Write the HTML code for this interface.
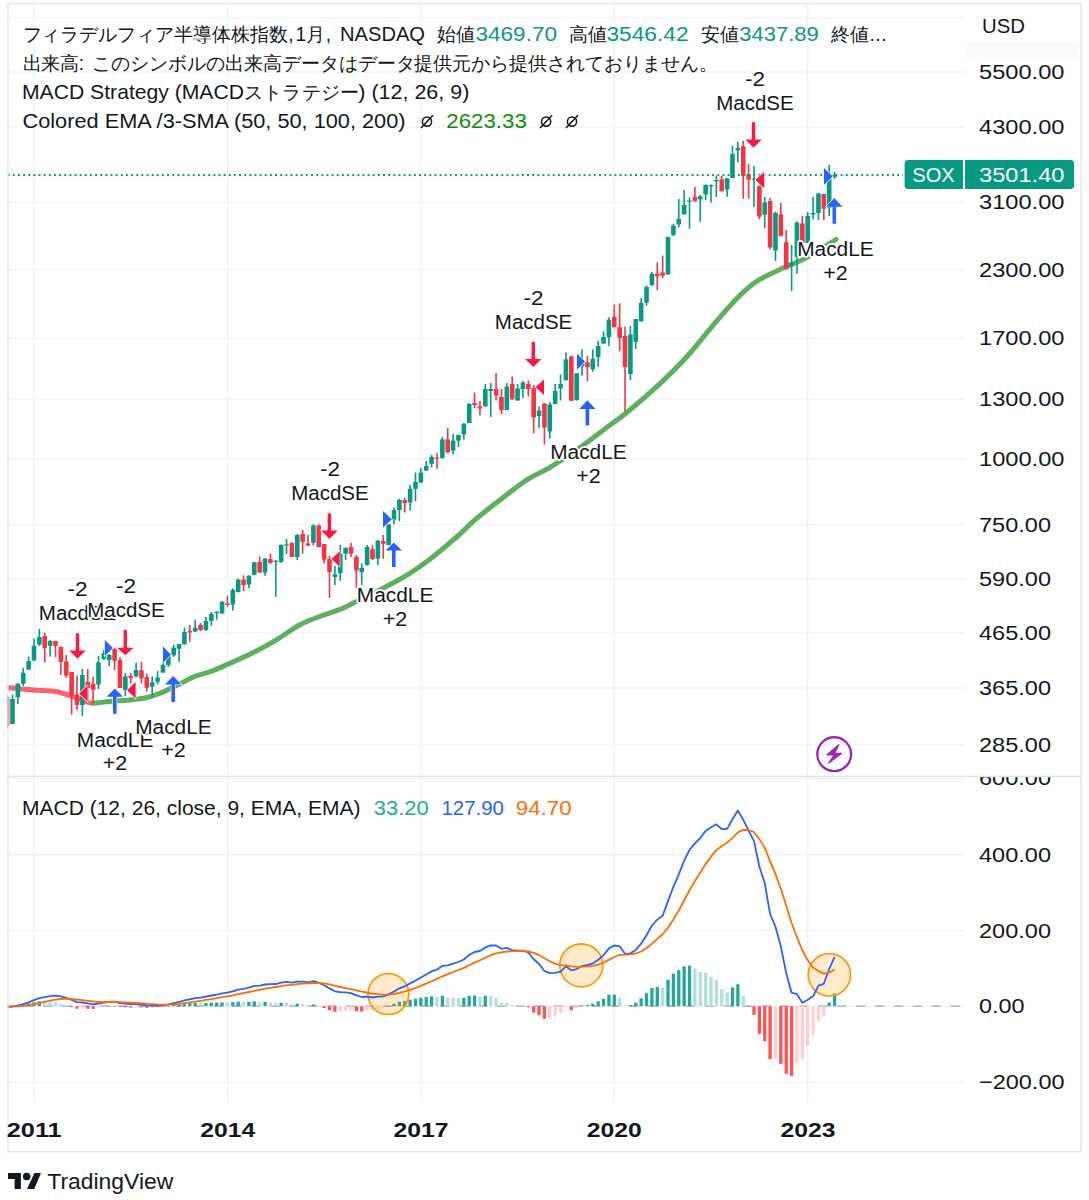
<!DOCTYPE html>
<html><head><meta charset="utf-8"><style>
html,body{margin:0;padding:0;background:#fff;}
body{width:1089px;height:1200px;position:relative;overflow:hidden;}
</style></head><body>
<svg width="1089" height="1200" viewBox="0 0 1089 1200" style="position:absolute;left:0;top:0">
<defs><clipPath id="cm"><rect x="7.5" y="3.5" width="957" height="773"/></clipPath><clipPath id="cd"><rect x="7.5" y="777" width="957" height="326"/></clipPath></defs>
<rect x="0" y="0" width="1089" height="1200" fill="#ffffff"/>
<line x1="7.5" y1="17.5" x2="964.5" y2="17.5" stroke="#eff0f1" stroke-width="1.2"/>
<line x1="7.5" y1="72" x2="964.5" y2="72" stroke="#eff0f1" stroke-width="1.2"/>
<line x1="7.5" y1="127" x2="964.5" y2="127" stroke="#eff0f1" stroke-width="1.2"/>
<line x1="7.5" y1="202" x2="964.5" y2="202" stroke="#eff0f1" stroke-width="1.2"/>
<line x1="7.5" y1="270" x2="964.5" y2="270" stroke="#eff0f1" stroke-width="1.2"/>
<line x1="7.5" y1="338" x2="964.5" y2="338" stroke="#eff0f1" stroke-width="1.2"/>
<line x1="7.5" y1="399" x2="964.5" y2="399" stroke="#eff0f1" stroke-width="1.2"/>
<line x1="7.5" y1="459" x2="964.5" y2="459" stroke="#eff0f1" stroke-width="1.2"/>
<line x1="7.5" y1="524.5" x2="964.5" y2="524.5" stroke="#eff0f1" stroke-width="1.2"/>
<line x1="7.5" y1="579" x2="964.5" y2="579" stroke="#eff0f1" stroke-width="1.2"/>
<line x1="7.5" y1="633" x2="964.5" y2="633" stroke="#eff0f1" stroke-width="1.2"/>
<line x1="7.5" y1="688" x2="964.5" y2="688" stroke="#eff0f1" stroke-width="1.2"/>
<line x1="7.5" y1="745" x2="964.5" y2="745" stroke="#eff0f1" stroke-width="1.2"/>
<line x1="7.5" y1="778.5" x2="964.5" y2="778.5" stroke="#eff0f1" stroke-width="1.2"/>
<line x1="7.5" y1="854.6" x2="964.5" y2="854.6" stroke="#eff0f1" stroke-width="1.2"/>
<line x1="7.5" y1="930.5" x2="964.5" y2="930.5" stroke="#eff0f1" stroke-width="1.2"/>
<line x1="7.5" y1="1082" x2="964.5" y2="1082" stroke="#eff0f1" stroke-width="1.2"/>
<line x1="34" y1="3.5" x2="34" y2="1103" stroke="#eff0f1" stroke-width="1.2"/>
<line x1="227.5" y1="3.5" x2="227.5" y2="1103" stroke="#eff0f1" stroke-width="1.2"/>
<line x1="420.8" y1="3.5" x2="420.8" y2="1103" stroke="#eff0f1" stroke-width="1.2"/>
<line x1="614" y1="3.5" x2="614" y2="1103" stroke="#eff0f1" stroke-width="1.2"/>
<line x1="807.7" y1="3.5" x2="807.7" y2="1103" stroke="#eff0f1" stroke-width="1.2"/>
<g clip-path="url(#cm)">
<path fill="none" stroke="#f7525f" stroke-opacity="0.9" stroke-width="5" stroke-linejoin="round" d="M7.0,687.5 C11.2,687.9 24.7,689.4 32.5,690.0 C40.3,690.6 48.6,690.6 54.0,691.3 C59.4,692.0 61.4,692.9 65.0,694.0 C68.6,695.1 71.6,696.3 75.8,697.8 C80.0,699.3 87.0,701.9 90.0,702.8 C93.0,703.6 93.3,702.9 94.0,702.9"/>
<path fill="none" stroke="#4ca64c" stroke-opacity="0.9" stroke-width="5" stroke-linecap="round" stroke-linejoin="round" d="M94.0,702.9 C94.8,702.9 96.8,703.0 98.8,702.8 C100.8,702.6 102.8,702.1 105.8,701.8 C108.8,701.5 113.1,701.1 116.7,700.8 C120.3,700.5 123.9,700.5 127.5,700.2 C131.1,699.9 134.7,699.6 138.3,699.1 C141.9,698.6 146.3,697.7 149.2,697.0 C152.1,696.3 153.2,695.7 155.7,694.8 C158.2,693.9 161.8,692.6 164.3,691.5 C166.8,690.4 167.9,689.7 170.8,688.3 C173.7,686.9 177.7,684.9 181.7,682.9 C185.7,680.9 190.1,678.2 195.0,676.3 C199.9,674.4 204.8,673.7 211.2,671.3 C217.6,668.9 226.0,665.1 233.3,661.8 C240.7,658.5 248.0,655.2 255.3,651.5 C262.6,647.8 270.0,643.7 277.3,639.3 C284.6,634.9 292.3,628.8 299.4,625.0 C306.5,621.2 312.9,619.0 320.0,616.3 C327.1,613.6 336.1,611.0 342.0,608.6 C347.9,606.2 347.9,605.7 355.3,602.0 C362.7,598.3 377.3,591.2 386.1,586.6 C394.9,582.0 400.9,579.0 408.2,574.4 C415.5,569.8 422.1,565.2 430.2,559.0 C438.3,552.8 449.2,543.4 456.6,537.0 C464.0,530.6 467.7,526.1 474.3,520.4 C480.9,514.7 487.5,509.6 496.3,502.8 C505.1,496.0 518.2,485.6 527.2,479.7 C536.2,473.8 541.6,472.4 550.0,467.3 C558.4,462.2 568.3,455.8 577.5,449.4 C586.7,443.0 596.8,434.9 605.1,428.7 C613.4,422.5 617.9,419.8 627.1,412.2 C636.3,404.6 650.1,392.7 660.2,383.3 C670.3,373.9 678.5,365.8 687.7,355.7 C696.9,345.6 707.0,332.2 715.3,322.6 C723.6,313.0 730.4,304.8 737.3,297.9 C744.2,291.0 748.8,286.4 756.6,281.3 C764.4,276.2 775.9,271.4 784.2,267.5 C792.5,263.6 797.6,262.6 806.2,257.9 C814.8,253.2 831.0,242.6 836.0,239.5"/>
<rect x="6.33" y="694.0" width="1.6" height="34.0" fill="#f23645"/>
<rect x="4.83" y="697.0" width="4.6" height="29.0" fill="#f23645"/>
<rect x="11.71" y="694.5" width="1.6" height="29.5" fill="#089981"/>
<rect x="10.21" y="699.0" width="4.6" height="25.0" fill="#089981"/>
<rect x="17.08" y="683.0" width="1.6" height="21.0" fill="#089981"/>
<rect x="15.58" y="683.7" width="4.6" height="13.5" fill="#089981"/>
<rect x="22.45" y="668.0" width="1.6" height="18.0" fill="#089981"/>
<rect x="20.95" y="672.8" width="4.6" height="10.9" fill="#089981"/>
<rect x="27.83" y="656.6" width="1.6" height="13.0" fill="#089981"/>
<rect x="26.33" y="661.0" width="4.6" height="8.6" fill="#089981"/>
<rect x="33.20" y="639.0" width="1.6" height="22.0" fill="#089981"/>
<rect x="31.70" y="645.8" width="4.6" height="14.6" fill="#089981"/>
<rect x="38.57" y="629.0" width="1.6" height="16.8" fill="#089981"/>
<rect x="37.07" y="637.0" width="4.6" height="7.7" fill="#089981"/>
<rect x="43.95" y="632.7" width="1.6" height="29.8" fill="#f23645"/>
<rect x="42.45" y="636.0" width="4.6" height="12.0" fill="#f23645"/>
<rect x="49.32" y="640.0" width="1.6" height="16.6" fill="#089981"/>
<rect x="47.82" y="640.9" width="4.6" height="4.9" fill="#089981"/>
<rect x="54.69" y="641.0" width="1.6" height="16.0" fill="#f23645"/>
<rect x="53.19" y="641.0" width="4.6" height="5.0" fill="#f23645"/>
<rect x="60.07" y="647.0" width="1.6" height="28.0" fill="#f23645"/>
<rect x="58.57" y="646.8" width="4.6" height="15.2" fill="#f23645"/>
<rect x="65.44" y="655.0" width="1.6" height="22.7" fill="#f23645"/>
<rect x="63.94" y="661.5" width="4.6" height="14.0" fill="#f23645"/>
<rect x="70.81" y="672.0" width="1.6" height="42.5" fill="#f23645"/>
<rect x="69.31" y="671.8" width="4.6" height="23.8" fill="#f23645"/>
<rect x="76.18" y="675.5" width="1.6" height="34.5" fill="#f23645"/>
<rect x="74.68" y="694.5" width="4.6" height="10.5" fill="#f23645"/>
<rect x="81.56" y="669.0" width="1.6" height="47.0" fill="#089981"/>
<rect x="80.06" y="675.0" width="4.6" height="30.0" fill="#089981"/>
<rect x="86.93" y="669.0" width="1.6" height="30.6" fill="#f23645"/>
<rect x="85.43" y="682.0" width="4.6" height="6.0" fill="#f23645"/>
<rect x="92.30" y="677.0" width="1.6" height="25.6" fill="#f23645"/>
<rect x="90.80" y="683.7" width="4.6" height="5.9" fill="#f23645"/>
<rect x="97.68" y="656.0" width="1.6" height="33.0" fill="#089981"/>
<rect x="96.18" y="662.3" width="4.6" height="22.2" fill="#089981"/>
<rect x="103.05" y="650.0" width="1.6" height="10.0" fill="#089981"/>
<rect x="101.55" y="653.0" width="4.6" height="6.0" fill="#089981"/>
<rect x="108.42" y="654.0" width="1.6" height="12.0" fill="#089981"/>
<rect x="106.92" y="655.0" width="4.6" height="5.0" fill="#089981"/>
<rect x="113.80" y="648.0" width="1.6" height="22.0" fill="#f23645"/>
<rect x="112.30" y="649.0" width="4.6" height="11.7" fill="#f23645"/>
<rect x="119.17" y="657.4" width="1.6" height="30.6" fill="#f23645"/>
<rect x="117.67" y="660.0" width="4.6" height="28.0" fill="#f23645"/>
<rect x="124.54" y="673.0" width="1.6" height="23.0" fill="#089981"/>
<rect x="123.04" y="676.4" width="4.6" height="13.6" fill="#089981"/>
<rect x="129.91" y="673.0" width="1.6" height="10.4" fill="#f23645"/>
<rect x="128.41" y="675.8" width="4.6" height="2.2" fill="#f23645"/>
<rect x="135.29" y="662.8" width="1.6" height="14.7" fill="#089981"/>
<rect x="133.79" y="670.0" width="4.6" height="6.4" fill="#089981"/>
<rect x="140.66" y="661.8" width="1.6" height="21.6" fill="#f23645"/>
<rect x="139.16" y="670.4" width="4.6" height="8.1" fill="#f23645"/>
<rect x="146.03" y="673.7" width="1.6" height="17.8" fill="#f23645"/>
<rect x="144.53" y="677.0" width="4.6" height="10.8" fill="#f23645"/>
<rect x="151.41" y="676.4" width="1.6" height="20.6" fill="#089981"/>
<rect x="149.91" y="682.3" width="4.6" height="4.4" fill="#089981"/>
<rect x="156.78" y="671.0" width="1.6" height="13.5" fill="#089981"/>
<rect x="155.28" y="677.5" width="4.6" height="4.3" fill="#089981"/>
<rect x="162.15" y="661.0" width="1.6" height="11.6" fill="#089981"/>
<rect x="160.65" y="665.0" width="4.6" height="7.6" fill="#089981"/>
<rect x="167.53" y="653.0" width="1.6" height="14.0" fill="#089981"/>
<rect x="166.03" y="655.0" width="4.6" height="10.0" fill="#089981"/>
<rect x="172.90" y="645.0" width="1.6" height="12.0" fill="#089981"/>
<rect x="171.40" y="647.7" width="4.6" height="7.6" fill="#089981"/>
<rect x="178.27" y="644.0" width="1.6" height="17.8" fill="#089981"/>
<rect x="176.77" y="644.0" width="4.6" height="4.8" fill="#089981"/>
<rect x="183.64" y="627.6" width="1.6" height="16.8" fill="#089981"/>
<rect x="182.14" y="632.0" width="4.6" height="12.4" fill="#089981"/>
<rect x="189.02" y="625.0" width="1.6" height="16.7" fill="#f23645"/>
<rect x="187.52" y="630.9" width="4.6" height="1.6" fill="#f23645"/>
<rect x="194.39" y="619.7" width="1.6" height="12.3" fill="#089981"/>
<rect x="192.89" y="627.8" width="4.6" height="3.7" fill="#089981"/>
<rect x="199.76" y="623.0" width="1.6" height="8.0" fill="#f23645"/>
<rect x="198.26" y="625.0" width="4.6" height="5.0" fill="#f23645"/>
<rect x="205.14" y="617.0" width="1.6" height="14.0" fill="#089981"/>
<rect x="203.64" y="621.0" width="4.6" height="9.0" fill="#089981"/>
<rect x="210.51" y="612.0" width="1.6" height="13.7" fill="#089981"/>
<rect x="209.01" y="613.8" width="4.6" height="7.0" fill="#089981"/>
<rect x="215.88" y="611.6" width="1.6" height="8.1" fill="#089981"/>
<rect x="214.38" y="611.6" width="4.6" height="1.6" fill="#089981"/>
<rect x="221.25" y="601.0" width="1.6" height="13.0" fill="#089981"/>
<rect x="219.75" y="601.8" width="4.6" height="11.4" fill="#089981"/>
<rect x="226.63" y="595.9" width="1.6" height="10.8" fill="#f23645"/>
<rect x="225.13" y="603.5" width="4.6" height="1.5" fill="#f23645"/>
<rect x="232.00" y="588.3" width="1.6" height="22.2" fill="#089981"/>
<rect x="230.50" y="590.0" width="4.6" height="14.5" fill="#089981"/>
<rect x="237.37" y="578.5" width="1.6" height="14.0" fill="#089981"/>
<rect x="235.87" y="579.6" width="4.6" height="12.4" fill="#089981"/>
<rect x="242.75" y="575.3" width="1.6" height="15.7" fill="#f23645"/>
<rect x="241.25" y="579.6" width="4.6" height="5.4" fill="#f23645"/>
<rect x="248.12" y="575.3" width="1.6" height="13.0" fill="#089981"/>
<rect x="246.62" y="575.8" width="4.6" height="8.7" fill="#089981"/>
<rect x="253.49" y="561.8" width="1.6" height="13.5" fill="#089981"/>
<rect x="251.99" y="562.3" width="4.6" height="12.5" fill="#089981"/>
<rect x="258.87" y="556.3" width="1.6" height="16.3" fill="#f23645"/>
<rect x="257.37" y="561.8" width="4.6" height="10.8" fill="#f23645"/>
<rect x="264.24" y="558.0" width="1.6" height="17.8" fill="#089981"/>
<rect x="262.74" y="558.5" width="4.6" height="14.1" fill="#089981"/>
<rect x="269.61" y="553.6" width="1.6" height="10.4" fill="#f23645"/>
<rect x="268.11" y="559.0" width="4.6" height="3.8" fill="#f23645"/>
<rect x="274.98" y="560.0" width="1.6" height="37.0" fill="#089981"/>
<rect x="273.48" y="560.7" width="4.6" height="1.2" fill="#089981"/>
<rect x="280.36" y="544.4" width="1.6" height="18.4" fill="#089981"/>
<rect x="278.86" y="545.0" width="4.6" height="16.8" fill="#089981"/>
<rect x="285.73" y="539.0" width="1.6" height="15.0" fill="#089981"/>
<rect x="284.23" y="544.4" width="4.6" height="1.2" fill="#089981"/>
<rect x="291.10" y="542.8" width="1.6" height="14.2" fill="#f23645"/>
<rect x="289.60" y="542.8" width="4.6" height="14.2" fill="#f23645"/>
<rect x="296.48" y="534.0" width="1.6" height="26.0" fill="#089981"/>
<rect x="294.98" y="535.0" width="4.6" height="22.0" fill="#089981"/>
<rect x="301.85" y="529.8" width="1.6" height="23.9" fill="#f23645"/>
<rect x="300.35" y="534.0" width="4.6" height="7.8" fill="#f23645"/>
<rect x="307.22" y="535.0" width="1.6" height="11.0" fill="#f23645"/>
<rect x="305.72" y="543.4" width="4.6" height="2.1" fill="#f23645"/>
<rect x="312.60" y="524.4" width="1.6" height="21.1" fill="#089981"/>
<rect x="311.10" y="525.5" width="4.6" height="17.3" fill="#089981"/>
<rect x="317.97" y="524.4" width="1.6" height="22.6" fill="#f23645"/>
<rect x="316.47" y="525.5" width="4.6" height="21.5" fill="#f23645"/>
<rect x="323.34" y="544.0" width="1.6" height="19.4" fill="#f23645"/>
<rect x="321.84" y="544.0" width="4.6" height="15.6" fill="#f23645"/>
<rect x="328.71" y="555.8" width="1.6" height="42.2" fill="#f23645"/>
<rect x="327.21" y="559.0" width="4.6" height="13.0" fill="#f23645"/>
<rect x="334.09" y="566.0" width="1.6" height="19.0" fill="#089981"/>
<rect x="332.59" y="574.3" width="4.6" height="2.7" fill="#089981"/>
<rect x="339.46" y="545.0" width="1.6" height="35.8" fill="#089981"/>
<rect x="337.96" y="553.7" width="4.6" height="19.6" fill="#089981"/>
<rect x="344.83" y="547.7" width="1.6" height="12.3" fill="#089981"/>
<rect x="343.33" y="547.7" width="4.6" height="6.0" fill="#089981"/>
<rect x="350.21" y="542.8" width="1.6" height="14.2" fill="#f23645"/>
<rect x="348.71" y="547.0" width="4.6" height="6.7" fill="#f23645"/>
<rect x="355.58" y="554.8" width="1.6" height="33.5" fill="#f23645"/>
<rect x="354.08" y="557.0" width="4.6" height="13.5" fill="#f23645"/>
<rect x="360.95" y="563.4" width="1.6" height="21.6" fill="#089981"/>
<rect x="359.45" y="567.8" width="4.6" height="4.2" fill="#089981"/>
<rect x="366.33" y="545.0" width="1.6" height="20.6" fill="#089981"/>
<rect x="364.83" y="547.0" width="4.6" height="18.0" fill="#089981"/>
<rect x="371.70" y="545.0" width="1.6" height="15.0" fill="#f23645"/>
<rect x="370.20" y="549.3" width="4.6" height="9.7" fill="#f23645"/>
<rect x="377.07" y="540.0" width="1.6" height="25.0" fill="#089981"/>
<rect x="375.57" y="540.7" width="4.6" height="17.8" fill="#089981"/>
<rect x="382.44" y="535.0" width="1.6" height="23.8" fill="#f23645"/>
<rect x="380.94" y="541.0" width="4.6" height="2.8" fill="#f23645"/>
<rect x="387.82" y="524.4" width="1.6" height="21.1" fill="#089981"/>
<rect x="386.32" y="524.4" width="4.6" height="20.6" fill="#089981"/>
<rect x="393.19" y="507.5" width="1.6" height="16.9" fill="#089981"/>
<rect x="391.69" y="510.0" width="4.6" height="9.4" fill="#089981"/>
<rect x="398.56" y="498.8" width="1.6" height="22.2" fill="#089981"/>
<rect x="397.06" y="500.0" width="4.6" height="10.0" fill="#089981"/>
<rect x="403.94" y="498.0" width="1.6" height="14.5" fill="#f23645"/>
<rect x="402.44" y="500.0" width="4.6" height="3.0" fill="#f23645"/>
<rect x="409.31" y="485.0" width="1.6" height="25.6" fill="#089981"/>
<rect x="407.81" y="488.8" width="4.6" height="13.7" fill="#089981"/>
<rect x="414.68" y="472.5" width="1.6" height="28.8" fill="#089981"/>
<rect x="413.18" y="481.9" width="4.6" height="6.9" fill="#089981"/>
<rect x="420.06" y="468.0" width="1.6" height="15.0" fill="#089981"/>
<rect x="418.56" y="472.5" width="4.6" height="10.0" fill="#089981"/>
<rect x="425.43" y="461.0" width="1.6" height="10.0" fill="#089981"/>
<rect x="423.93" y="466.0" width="4.6" height="4.6" fill="#089981"/>
<rect x="430.80" y="455.0" width="1.6" height="12.5" fill="#089981"/>
<rect x="429.30" y="456.9" width="4.6" height="6.9" fill="#089981"/>
<rect x="436.18" y="453.0" width="1.6" height="15.8" fill="#f23645"/>
<rect x="434.68" y="457.5" width="4.6" height="1.2" fill="#f23645"/>
<rect x="441.55" y="436.9" width="1.6" height="21.9" fill="#089981"/>
<rect x="440.05" y="439.4" width="4.6" height="18.6" fill="#089981"/>
<rect x="446.92" y="428.0" width="1.6" height="25.0" fill="#f23645"/>
<rect x="445.42" y="439.4" width="4.6" height="13.1" fill="#f23645"/>
<rect x="452.29" y="433.8" width="1.6" height="20.6" fill="#089981"/>
<rect x="450.79" y="440.6" width="4.6" height="10.0" fill="#089981"/>
<rect x="457.67" y="434.4" width="1.6" height="12.5" fill="#089981"/>
<rect x="456.17" y="435.0" width="4.6" height="5.6" fill="#089981"/>
<rect x="463.04" y="423.0" width="1.6" height="16.4" fill="#089981"/>
<rect x="461.54" y="423.8" width="4.6" height="10.6" fill="#089981"/>
<rect x="468.41" y="403.0" width="1.6" height="20.0" fill="#089981"/>
<rect x="466.91" y="404.0" width="4.6" height="19.0" fill="#089981"/>
<rect x="473.79" y="392.5" width="1.6" height="15.5" fill="#f23645"/>
<rect x="472.29" y="403.0" width="4.6" height="2.0" fill="#f23645"/>
<rect x="479.16" y="401.0" width="1.6" height="14.5" fill="#f23645"/>
<rect x="477.66" y="406.5" width="4.6" height="2.0" fill="#f23645"/>
<rect x="484.53" y="384.0" width="1.6" height="22.5" fill="#089981"/>
<rect x="483.03" y="389.0" width="4.6" height="17.5" fill="#089981"/>
<rect x="489.91" y="383.0" width="1.6" height="34.0" fill="#089981"/>
<rect x="488.41" y="389.0" width="4.6" height="2.0" fill="#089981"/>
<rect x="495.28" y="373.0" width="1.6" height="27.5" fill="#f23645"/>
<rect x="493.78" y="389.0" width="4.6" height="6.5" fill="#f23645"/>
<rect x="500.65" y="389.0" width="1.6" height="25.0" fill="#f23645"/>
<rect x="499.15" y="397.0" width="4.6" height="13.0" fill="#f23645"/>
<rect x="506.02" y="383.0" width="1.6" height="27.0" fill="#089981"/>
<rect x="504.52" y="386.5" width="4.6" height="23.5" fill="#089981"/>
<rect x="511.40" y="376.5" width="1.6" height="23.5" fill="#f23645"/>
<rect x="509.90" y="384.0" width="4.6" height="15.0" fill="#f23645"/>
<rect x="516.77" y="384.0" width="1.6" height="16.5" fill="#089981"/>
<rect x="515.27" y="388.5" width="4.6" height="12.0" fill="#089981"/>
<rect x="522.14" y="381.0" width="1.6" height="17.0" fill="#089981"/>
<rect x="520.64" y="382.5" width="4.6" height="6.5" fill="#089981"/>
<rect x="527.52" y="380.5" width="1.6" height="16.0" fill="#f23645"/>
<rect x="526.02" y="384.0" width="4.6" height="5.0" fill="#f23645"/>
<rect x="532.89" y="385.0" width="1.6" height="48.5" fill="#f23645"/>
<rect x="531.39" y="388.0" width="4.6" height="29.5" fill="#f23645"/>
<rect x="538.26" y="406.5" width="1.6" height="21.5" fill="#089981"/>
<rect x="536.76" y="410.5" width="4.6" height="5.5" fill="#089981"/>
<rect x="543.63" y="403.0" width="1.6" height="41.5" fill="#f23645"/>
<rect x="542.13" y="403.5" width="4.6" height="24.0" fill="#f23645"/>
<rect x="549.01" y="402.0" width="1.6" height="36.5" fill="#089981"/>
<rect x="547.51" y="404.5" width="4.6" height="27.0" fill="#089981"/>
<rect x="554.38" y="384.0" width="1.6" height="20.0" fill="#089981"/>
<rect x="552.88" y="391.0" width="4.6" height="13.0" fill="#089981"/>
<rect x="559.75" y="374.5" width="1.6" height="26.0" fill="#089981"/>
<rect x="558.25" y="384.0" width="4.6" height="4.5" fill="#089981"/>
<rect x="565.13" y="352.3" width="1.6" height="28.0" fill="#089981"/>
<rect x="563.63" y="359.3" width="4.6" height="21.0" fill="#089981"/>
<rect x="570.50" y="356.0" width="1.6" height="45.0" fill="#f23645"/>
<rect x="569.00" y="356.4" width="4.6" height="44.4" fill="#f23645"/>
<rect x="575.87" y="373.0" width="1.6" height="27.5" fill="#089981"/>
<rect x="574.37" y="373.3" width="4.6" height="26.9" fill="#089981"/>
<rect x="581.25" y="349.4" width="1.6" height="26.3" fill="#089981"/>
<rect x="579.75" y="361.7" width="4.6" height="4.6" fill="#089981"/>
<rect x="586.62" y="355.8" width="1.6" height="25.7" fill="#f23645"/>
<rect x="585.12" y="362.3" width="4.6" height="4.7" fill="#f23645"/>
<rect x="591.99" y="349.4" width="1.6" height="22.2" fill="#089981"/>
<rect x="590.49" y="358.8" width="4.6" height="10.5" fill="#089981"/>
<rect x="597.37" y="340.7" width="1.6" height="26.3" fill="#089981"/>
<rect x="595.87" y="346.0" width="4.6" height="11.0" fill="#089981"/>
<rect x="602.74" y="331.3" width="1.6" height="12.3" fill="#089981"/>
<rect x="601.24" y="337.0" width="4.6" height="6.6" fill="#089981"/>
<rect x="608.11" y="317.3" width="1.6" height="28.7" fill="#089981"/>
<rect x="606.61" y="319.7" width="4.6" height="17.3" fill="#089981"/>
<rect x="613.48" y="304.5" width="1.6" height="22.8" fill="#f23645"/>
<rect x="611.98" y="316.8" width="4.6" height="10.5" fill="#f23645"/>
<rect x="618.86" y="303.3" width="1.6" height="47.9" fill="#f23645"/>
<rect x="617.36" y="327.3" width="4.6" height="10.5" fill="#f23645"/>
<rect x="624.23" y="326.7" width="1.6" height="84.6" fill="#f23645"/>
<rect x="622.73" y="336.0" width="4.6" height="31.0" fill="#f23645"/>
<rect x="629.60" y="326.0" width="1.6" height="54.3" fill="#089981"/>
<rect x="628.10" y="334.3" width="4.6" height="39.7" fill="#089981"/>
<rect x="634.98" y="319.0" width="1.6" height="30.0" fill="#089981"/>
<rect x="633.48" y="319.0" width="4.6" height="22.8" fill="#089981"/>
<rect x="640.35" y="298.0" width="1.6" height="23.4" fill="#089981"/>
<rect x="638.85" y="302.8" width="4.6" height="18.6" fill="#089981"/>
<rect x="645.72" y="285.3" width="1.6" height="20.4" fill="#089981"/>
<rect x="644.22" y="287.0" width="4.6" height="15.8" fill="#089981"/>
<rect x="651.10" y="272.0" width="1.6" height="14.0" fill="#089981"/>
<rect x="649.60" y="273.8" width="4.6" height="11.2" fill="#089981"/>
<rect x="656.47" y="262.5" width="1.6" height="27.5" fill="#f23645"/>
<rect x="654.97" y="273.8" width="4.6" height="2.5" fill="#f23645"/>
<rect x="661.84" y="255.6" width="1.6" height="22.4" fill="#f23645"/>
<rect x="660.34" y="272.5" width="4.6" height="3.1" fill="#f23645"/>
<rect x="667.21" y="236.9" width="1.6" height="38.1" fill="#089981"/>
<rect x="665.71" y="236.9" width="4.6" height="37.5" fill="#089981"/>
<rect x="672.59" y="223.8" width="1.6" height="12.2" fill="#089981"/>
<rect x="671.09" y="225.6" width="4.6" height="9.4" fill="#089981"/>
<rect x="677.96" y="198.8" width="1.6" height="28.7" fill="#089981"/>
<rect x="676.46" y="218.8" width="4.6" height="5.6" fill="#089981"/>
<rect x="683.33" y="190.0" width="1.6" height="24.4" fill="#089981"/>
<rect x="681.83" y="205.0" width="4.6" height="9.4" fill="#089981"/>
<rect x="688.71" y="197.5" width="1.6" height="31.3" fill="#089981"/>
<rect x="687.21" y="200.6" width="4.6" height="1.2" fill="#089981"/>
<rect x="694.08" y="186.9" width="1.6" height="14.4" fill="#f23645"/>
<rect x="692.58" y="196.9" width="4.6" height="4.4" fill="#f23645"/>
<rect x="699.45" y="195.0" width="1.6" height="26.9" fill="#089981"/>
<rect x="697.95" y="196.3" width="4.6" height="3.1" fill="#089981"/>
<rect x="704.83" y="184.4" width="1.6" height="15.6" fill="#089981"/>
<rect x="703.33" y="185.0" width="4.6" height="9.4" fill="#089981"/>
<rect x="710.20" y="184.4" width="1.6" height="18.1" fill="#089981"/>
<rect x="708.70" y="185.0" width="4.6" height="1.3" fill="#089981"/>
<rect x="715.57" y="175.6" width="1.6" height="21.3" fill="#089981"/>
<rect x="714.07" y="180.0" width="4.6" height="1.3" fill="#089981"/>
<rect x="720.94" y="176.0" width="1.6" height="15.3" fill="#f23645"/>
<rect x="719.44" y="179.4" width="4.6" height="11.9" fill="#f23645"/>
<rect x="726.32" y="178.0" width="1.6" height="18.7" fill="#089981"/>
<rect x="724.82" y="178.3" width="4.6" height="11.3" fill="#089981"/>
<rect x="731.69" y="145.8" width="1.6" height="32.2" fill="#089981"/>
<rect x="730.19" y="154.0" width="4.6" height="24.0" fill="#089981"/>
<rect x="737.06" y="141.7" width="1.6" height="20.8" fill="#089981"/>
<rect x="735.56" y="148.0" width="4.6" height="2.4" fill="#089981"/>
<rect x="742.44" y="140.8" width="1.6" height="58.0" fill="#f23645"/>
<rect x="740.94" y="146.3" width="4.6" height="29.5" fill="#f23645"/>
<rect x="747.81" y="164.0" width="1.6" height="34.8" fill="#f23645"/>
<rect x="746.31" y="174.2" width="4.6" height="5.4" fill="#f23645"/>
<rect x="753.18" y="166.0" width="1.6" height="41.0" fill="#089981"/>
<rect x="751.68" y="178.5" width="4.6" height="1.2" fill="#089981"/>
<rect x="758.56" y="185.8" width="1.6" height="33.2" fill="#f23645"/>
<rect x="757.06" y="185.8" width="4.6" height="30.9" fill="#f23645"/>
<rect x="763.93" y="197.0" width="1.6" height="31.3" fill="#089981"/>
<rect x="762.43" y="202.5" width="4.6" height="12.1" fill="#089981"/>
<rect x="769.30" y="198.0" width="1.6" height="51.0" fill="#f23645"/>
<rect x="767.80" y="201.0" width="4.6" height="46.5" fill="#f23645"/>
<rect x="774.67" y="211.5" width="1.6" height="49.5" fill="#089981"/>
<rect x="773.17" y="213.0" width="4.6" height="37.5" fill="#089981"/>
<rect x="780.05" y="203.0" width="1.6" height="33.2" fill="#f23645"/>
<rect x="778.55" y="214.5" width="4.6" height="21.7" fill="#f23645"/>
<rect x="785.42" y="230.0" width="1.6" height="39.2" fill="#f23645"/>
<rect x="783.92" y="242.2" width="4.6" height="27.0" fill="#f23645"/>
<rect x="790.79" y="245.0" width="1.6" height="46.0" fill="#089981"/>
<rect x="789.29" y="263.2" width="4.6" height="3.0" fill="#089981"/>
<rect x="796.17" y="221.2" width="1.6" height="52.5" fill="#089981"/>
<rect x="794.67" y="222.7" width="4.6" height="34.3" fill="#089981"/>
<rect x="801.54" y="216.0" width="1.6" height="28.5" fill="#f23645"/>
<rect x="800.04" y="223.5" width="4.6" height="19.5" fill="#f23645"/>
<rect x="806.91" y="212.0" width="1.6" height="31.0" fill="#089981"/>
<rect x="805.41" y="216.0" width="4.6" height="27.0" fill="#089981"/>
<rect x="812.29" y="197.0" width="1.6" height="22.3" fill="#089981"/>
<rect x="810.79" y="213.0" width="4.6" height="1.5" fill="#089981"/>
<rect x="817.66" y="193.0" width="1.6" height="27.0" fill="#089981"/>
<rect x="816.16" y="193.5" width="4.6" height="19.5" fill="#089981"/>
<rect x="823.03" y="194.0" width="1.6" height="26.0" fill="#f23645"/>
<rect x="821.53" y="194.0" width="4.6" height="14.7" fill="#f23645"/>
<rect x="828.40" y="165.0" width="1.6" height="51.0" fill="#089981"/>
<rect x="826.90" y="177.0" width="4.6" height="31.0" fill="#089981"/>
<rect x="833.78" y="171.9" width="1.6" height="7.1" fill="#089981"/>
<rect x="832.28" y="174.8" width="4.6" height="2.1" fill="#089981"/>
<line x1="7.5" y1="175" x2="903" y2="175" stroke="#089981" stroke-width="1.8" stroke-dasharray="1.9 3.242" stroke-dashoffset="-0.2"/>
<path d="M104.8,640 L112.9,648.0 L104.8,656 Z" fill="#2962ff" stroke="#fff" stroke-width="1.2" paint-order="stroke"/>
<path d="M163,646.6 L171,654.7 L163,662.8 Z" fill="#2962ff" stroke="#fff" stroke-width="1.2" paint-order="stroke"/>
<path d="M383,511 L392,519.2 L383,527.5 Z" fill="#2962ff" stroke="#fff" stroke-width="1.2" paint-order="stroke"/>
<path d="M577,353.5 L585,361.6 L577,369.8 Z" fill="#2962ff" stroke="#fff" stroke-width="1.2" paint-order="stroke"/>
<path d="M824,168 L832.7,176.5 L824,185 Z" fill="#2962ff" stroke="#fff" stroke-width="1.2" paint-order="stroke"/>
<path d="M87.6,685.4 L79,693.5 L87.6,701.5 Z" fill="#ff1744" stroke="#fff" stroke-width="1.2" paint-order="stroke"/>
<path d="M135.6,682 L127,690.3 L135.6,698.6 Z" fill="#ff1744" stroke="#fff" stroke-width="1.2" paint-order="stroke"/>
<path d="M339.7,551 L331.6,558.9 L339.7,566.7 Z" fill="#ff1744" stroke="#fff" stroke-width="1.2" paint-order="stroke"/>
<path d="M544,379.5 L535.5,387.2 L544,395 Z" fill="#ff1744" stroke="#fff" stroke-width="1.2" paint-order="stroke"/>
<path d="M764.2,171.7 L755.4,180.0 L764.2,188.3 Z" fill="#ff1744" stroke="#fff" stroke-width="1.2" paint-order="stroke"/>
<path d="M75.8,633.3 L79.2,633.3 L79.2,650.6 L85.7,650.6 L77.5,658.75 L69.3,650.6 L75.8,650.6 Z" fill="#ff1744" stroke="#fff" stroke-width="1.2" paint-order="stroke"/>
<path d="M123.6,630 L127.0,630 L127.0,647.7 L133.5,647.7 L125.3,655.3 L117.1,647.7 L123.6,647.7 Z" fill="#ff1744" stroke="#fff" stroke-width="1.2" paint-order="stroke"/>
<path d="M327.7,513.6 L331.1,513.6 L331.1,530.4 L337.6,530.4 L329.4,539 L321.2,530.4 L327.7,530.4 Z" fill="#ff1744" stroke="#fff" stroke-width="1.2" paint-order="stroke"/>
<path d="M531.6,342 L535.0,342 L535.0,359 L541.5,359 L533.3,367 L525.1,359 L531.6,359 Z" fill="#ff1744" stroke="#fff" stroke-width="1.2" paint-order="stroke"/>
<path d="M751.8,122.2 L755.2,122.2 L755.2,139.5 L761.7,139.5 L753.5,147.7 L745.3,139.5 L751.8,139.5 Z" fill="#ff1744" stroke="#fff" stroke-width="1.2" paint-order="stroke"/>
<path d="M114.8,688.6 L123.0,696.7 L116.6,696.7 L116.6,713.7 L113.0,713.7 L113.0,696.7 L106.6,696.7 Z" fill="#2962ff" stroke="#fff" stroke-width="1.2" paint-order="stroke"/>
<path d="M173.2,676 L181.4,684.5 L175.0,684.5 L175.0,702 L171.4,702 L171.4,684.5 L165.0,684.5 Z" fill="#2962ff" stroke="#fff" stroke-width="1.2" paint-order="stroke"/>
<path d="M393.8,542.5 L402.0,550.6 L395.6,550.6 L395.6,567 L392.0,567 L392.0,550.6 L385.6,550.6 Z" fill="#2962ff" stroke="#fff" stroke-width="1.2" paint-order="stroke"/>
<path d="M587.4,400.2 L595.6,409 L589.2,409 L589.2,425.5 L585.6,425.5 L585.6,409 L579.2,409 Z" fill="#2962ff" stroke="#fff" stroke-width="1.2" paint-order="stroke"/>
<path d="M834.3,198 L842.5,206.7 L836.1,206.7 L836.1,223.7 L832.5,223.7 L832.5,206.7 L826.1,206.7 Z" fill="#2962ff" stroke="#fff" stroke-width="1.2" paint-order="stroke"/>
<text x="67.5" y="595.5" font-family="Liberation Sans, sans-serif" font-size="20" fill="#131722" stroke="#ffffff" stroke-width="3.5" stroke-linejoin="round" paint-order="stroke" textLength="20" lengthAdjust="spacingAndGlyphs">-2</text>
<text x="38.8" y="620" font-family="Liberation Sans, sans-serif" font-size="20" fill="#131722" stroke="#ffffff" stroke-width="3.5" stroke-linejoin="round" paint-order="stroke" textLength="77.5" lengthAdjust="spacingAndGlyphs">MacdSE</text>
<text x="116.0" y="592.5" font-family="Liberation Sans, sans-serif" font-size="20" fill="#131722" stroke="#ffffff" stroke-width="3.5" stroke-linejoin="round" paint-order="stroke" textLength="20" lengthAdjust="spacingAndGlyphs">-2</text>
<text x="87.2" y="617" font-family="Liberation Sans, sans-serif" font-size="20" fill="#131722" stroke="#ffffff" stroke-width="3.5" stroke-linejoin="round" paint-order="stroke" textLength="77.5" lengthAdjust="spacingAndGlyphs">MacdSE</text>
<text x="320.0" y="475.5" font-family="Liberation Sans, sans-serif" font-size="20" fill="#131722" stroke="#ffffff" stroke-width="3.5" stroke-linejoin="round" paint-order="stroke" textLength="20" lengthAdjust="spacingAndGlyphs">-2</text>
<text x="291.2" y="500" font-family="Liberation Sans, sans-serif" font-size="20" fill="#131722" stroke="#ffffff" stroke-width="3.5" stroke-linejoin="round" paint-order="stroke" textLength="77.5" lengthAdjust="spacingAndGlyphs">MacdSE</text>
<text x="523.5" y="304.5" font-family="Liberation Sans, sans-serif" font-size="20" fill="#131722" stroke="#ffffff" stroke-width="3.5" stroke-linejoin="round" paint-order="stroke" textLength="20" lengthAdjust="spacingAndGlyphs">-2</text>
<text x="494.8" y="329" font-family="Liberation Sans, sans-serif" font-size="20" fill="#131722" stroke="#ffffff" stroke-width="3.5" stroke-linejoin="round" paint-order="stroke" textLength="77.5" lengthAdjust="spacingAndGlyphs">MacdSE</text>
<text x="745.0" y="85.5" font-family="Liberation Sans, sans-serif" font-size="20" fill="#131722" stroke="#ffffff" stroke-width="3.5" stroke-linejoin="round" paint-order="stroke" textLength="20" lengthAdjust="spacingAndGlyphs">-2</text>
<text x="716.2" y="110" font-family="Liberation Sans, sans-serif" font-size="20" fill="#131722" stroke="#ffffff" stroke-width="3.5" stroke-linejoin="round" paint-order="stroke" textLength="77.5" lengthAdjust="spacingAndGlyphs">MacdSE</text>
<text x="76.8" y="747.3" font-family="Liberation Sans, sans-serif" font-size="20" fill="#131722" stroke="#ffffff" stroke-width="3.5" stroke-linejoin="round" paint-order="stroke" textLength="76.5" lengthAdjust="spacingAndGlyphs">MacdLE</text>
<text x="102.8" y="770.3" font-family="Liberation Sans, sans-serif" font-size="20" fill="#131722" stroke="#ffffff" stroke-width="3.5" stroke-linejoin="round" paint-order="stroke" textLength="24.5" lengthAdjust="spacingAndGlyphs">+2</text>
<text x="135.2" y="733.5" font-family="Liberation Sans, sans-serif" font-size="20" fill="#131722" stroke="#ffffff" stroke-width="3.5" stroke-linejoin="round" paint-order="stroke" textLength="76.5" lengthAdjust="spacingAndGlyphs">MacdLE</text>
<text x="161.2" y="757.4" font-family="Liberation Sans, sans-serif" font-size="20" fill="#131722" stroke="#ffffff" stroke-width="3.5" stroke-linejoin="round" paint-order="stroke" textLength="24.5" lengthAdjust="spacingAndGlyphs">+2</text>
<text x="356.8" y="602" font-family="Liberation Sans, sans-serif" font-size="20" fill="#131722" stroke="#ffffff" stroke-width="3.5" stroke-linejoin="round" paint-order="stroke" textLength="76.5" lengthAdjust="spacingAndGlyphs">MacdLE</text>
<text x="382.8" y="625.5" font-family="Liberation Sans, sans-serif" font-size="20" fill="#131722" stroke="#ffffff" stroke-width="3.5" stroke-linejoin="round" paint-order="stroke" textLength="24.5" lengthAdjust="spacingAndGlyphs">+2</text>
<text x="550.2" y="459.4" font-family="Liberation Sans, sans-serif" font-size="20" fill="#131722" stroke="#ffffff" stroke-width="3.5" stroke-linejoin="round" paint-order="stroke" textLength="76.5" lengthAdjust="spacingAndGlyphs">MacdLE</text>
<text x="576.2" y="483" font-family="Liberation Sans, sans-serif" font-size="20" fill="#131722" stroke="#ffffff" stroke-width="3.5" stroke-linejoin="round" paint-order="stroke" textLength="24.5" lengthAdjust="spacingAndGlyphs">+2</text>
<text x="797.2" y="256" font-family="Liberation Sans, sans-serif" font-size="20" fill="#131722" stroke="#ffffff" stroke-width="3.5" stroke-linejoin="round" paint-order="stroke" textLength="76.5" lengthAdjust="spacingAndGlyphs">MacdLE</text>
<text x="823.2" y="280" font-family="Liberation Sans, sans-serif" font-size="20" fill="#131722" stroke="#ffffff" stroke-width="3.5" stroke-linejoin="round" paint-order="stroke" textLength="24.5" lengthAdjust="spacingAndGlyphs">+2</text>
<circle cx="834.2" cy="754.2" r="16.9" fill="none" stroke="#9c27b0" stroke-width="2.4"/>
<path d="M838.9,744.8 L827,754.75 L834.2,754.75 L828.7,763 L841.4,753.4 L834.5,753.4 Z" fill="#9c27b0" stroke="#9c27b0" stroke-width="1.3" stroke-linejoin="round"/>
</g>
<g clip-path="url(#cd)">
<line x1="7.5" y1="1006.2" x2="964.5" y2="1006.2" stroke="#eff0f1" stroke-width="1.2"/>
<line x1="7.5" y1="1006.2" x2="964.5" y2="1006.2" stroke="#a3a6af" stroke-width="1.3" stroke-dasharray="9 9.9" stroke-dashoffset="1.8"/>
<rect x="5.48" y="1006.2" width="3.3" height="0.73" fill="#ffcdd2"/>
<rect x="10.86" y="1006.2" width="3.3" height="0.60" fill="#ffcdd2"/>
<rect x="16.23" y="1005.47" width="3.3" height="0.73" fill="#26a69a"/>
<rect x="21.60" y="1004.48" width="3.3" height="1.72" fill="#26a69a"/>
<rect x="26.98" y="1003.45" width="3.3" height="2.75" fill="#26a69a"/>
<rect x="32.35" y="1002.27" width="3.3" height="3.93" fill="#26a69a"/>
<rect x="37.72" y="1001.34" width="3.3" height="4.86" fill="#26a69a"/>
<rect x="43.10" y="1001.56" width="3.3" height="4.64" fill="#b2dfdb"/>
<rect x="48.47" y="1001.65" width="3.3" height="4.55" fill="#b2dfdb"/>
<rect x="53.84" y="1002.23" width="3.3" height="3.97" fill="#b2dfdb"/>
<rect x="59.22" y="1003.59" width="3.3" height="2.61" fill="#b2dfdb"/>
<rect x="64.59" y="1005.22" width="3.3" height="0.98" fill="#b2dfdb"/>
<rect x="69.96" y="1006.2" width="3.3" height="0.94" fill="#ff5252"/>
<rect x="75.33" y="1006.2" width="3.3" height="2.52" fill="#ff5252"/>
<rect x="80.71" y="1006.2" width="3.3" height="2.27" fill="#ffcdd2"/>
<rect x="86.08" y="1006.2" width="3.3" height="2.58" fill="#ff5252"/>
<rect x="91.45" y="1006.2" width="3.3" height="2.74" fill="#ff5252"/>
<rect x="96.83" y="1006.2" width="3.3" height="1.62" fill="#ffcdd2"/>
<rect x="102.20" y="1006.2" width="3.3" height="0.60" fill="#ffcdd2"/>
<rect x="107.57" y="1006.04" width="3.3" height="0.60" fill="#26a69a"/>
<rect x="112.94" y="1005.95" width="3.3" height="0.60" fill="#26a69a"/>
<rect x="118.32" y="1006.2" width="3.3" height="0.87" fill="#ff5252"/>
<rect x="123.69" y="1006.2" width="3.3" height="1.11" fill="#ff5252"/>
<rect x="129.06" y="1006.2" width="3.3" height="1.29" fill="#ff5252"/>
<rect x="134.44" y="1006.2" width="3.3" height="1.04" fill="#ffcdd2"/>
<rect x="139.81" y="1006.2" width="3.3" height="1.21" fill="#ff5252"/>
<rect x="145.18" y="1006.2" width="3.3" height="1.65" fill="#ff5252"/>
<rect x="150.56" y="1006.2" width="3.3" height="1.65" fill="#ffcdd2"/>
<rect x="155.93" y="1006.2" width="3.3" height="1.38" fill="#ffcdd2"/>
<rect x="161.30" y="1006.2" width="3.3" height="0.63" fill="#ffcdd2"/>
<rect x="166.68" y="1005.91" width="3.3" height="0.60" fill="#26a69a"/>
<rect x="172.05" y="1005.02" width="3.3" height="1.18" fill="#26a69a"/>
<rect x="177.42" y="1004.37" width="3.3" height="1.83" fill="#26a69a"/>
<rect x="182.79" y="1003.50" width="3.3" height="2.70" fill="#26a69a"/>
<rect x="188.17" y="1003.15" width="3.3" height="3.05" fill="#26a69a"/>
<rect x="193.54" y="1002.89" width="3.3" height="3.31" fill="#26a69a"/>
<rect x="198.91" y="1003.05" width="3.3" height="3.15" fill="#b2dfdb"/>
<rect x="204.29" y="1002.91" width="3.3" height="3.29" fill="#26a69a"/>
<rect x="209.66" y="1002.66" width="3.3" height="3.54" fill="#26a69a"/>
<rect x="215.03" y="1002.64" width="3.3" height="3.56" fill="#26a69a"/>
<rect x="220.41" y="1002.34" width="3.3" height="3.86" fill="#26a69a"/>
<rect x="225.78" y="1002.62" width="3.3" height="3.58" fill="#b2dfdb"/>
<rect x="231.15" y="1002.20" width="3.3" height="4.00" fill="#26a69a"/>
<rect x="236.52" y="1001.61" width="3.3" height="4.59" fill="#26a69a"/>
<rect x="241.90" y="1001.93" width="3.3" height="4.27" fill="#b2dfdb"/>
<rect x="247.27" y="1001.89" width="3.3" height="4.31" fill="#26a69a"/>
<rect x="252.64" y="1001.34" width="3.3" height="4.86" fill="#26a69a"/>
<rect x="258.02" y="1002.07" width="3.3" height="4.13" fill="#b2dfdb"/>
<rect x="263.39" y="1001.95" width="3.3" height="4.25" fill="#26a69a"/>
<rect x="268.76" y="1002.55" width="3.3" height="3.65" fill="#b2dfdb"/>
<rect x="274.13" y="1003.15" width="3.3" height="3.05" fill="#b2dfdb"/>
<rect x="279.51" y="1002.75" width="3.3" height="3.45" fill="#26a69a"/>
<rect x="284.88" y="1002.82" width="3.3" height="3.38" fill="#b2dfdb"/>
<rect x="290.25" y="1004.12" width="3.3" height="2.08" fill="#b2dfdb"/>
<rect x="295.63" y="1003.65" width="3.3" height="2.55" fill="#26a69a"/>
<rect x="301.00" y="1004.20" width="3.3" height="2.00" fill="#b2dfdb"/>
<rect x="306.37" y="1005.12" width="3.3" height="1.08" fill="#b2dfdb"/>
<rect x="311.75" y="1004.44" width="3.3" height="1.76" fill="#26a69a"/>
<rect x="317.12" y="1005.95" width="3.3" height="0.60" fill="#b2dfdb"/>
<rect x="322.49" y="1006.2" width="3.3" height="1.81" fill="#ff5252"/>
<rect x="327.87" y="1006.2" width="3.3" height="4.04" fill="#ff5252"/>
<rect x="333.24" y="1006.2" width="3.3" height="5.58" fill="#ff5252"/>
<rect x="338.61" y="1006.2" width="3.3" height="5.05" fill="#ffcdd2"/>
<rect x="343.98" y="1006.2" width="3.3" height="4.20" fill="#ffcdd2"/>
<rect x="349.36" y="1006.2" width="3.3" height="4.04" fill="#ffcdd2"/>
<rect x="354.73" y="1006.2" width="3.3" height="5.02" fill="#ff5252"/>
<rect x="360.10" y="1006.2" width="3.3" height="5.34" fill="#ff5252"/>
<rect x="365.48" y="1006.2" width="3.3" height="3.96" fill="#ffcdd2"/>
<rect x="370.85" y="1006.2" width="3.3" height="3.85" fill="#ffcdd2"/>
<rect x="376.22" y="1006.2" width="3.3" height="2.39" fill="#ffcdd2"/>
<rect x="381.60" y="1006.2" width="3.3" height="1.68" fill="#ffcdd2"/>
<rect x="386.97" y="1005.97" width="3.3" height="0.60" fill="#26a69a"/>
<rect x="392.34" y="1003.71" width="3.3" height="2.49" fill="#26a69a"/>
<rect x="397.71" y="1001.66" width="3.3" height="4.54" fill="#26a69a"/>
<rect x="403.09" y="1001.00" width="3.3" height="5.20" fill="#26a69a"/>
<rect x="408.46" y="999.70" width="3.3" height="6.50" fill="#26a69a"/>
<rect x="413.83" y="998.73" width="3.3" height="7.47" fill="#26a69a"/>
<rect x="419.21" y="997.75" width="3.3" height="8.45" fill="#26a69a"/>
<rect x="424.58" y="997.10" width="3.3" height="9.10" fill="#26a69a"/>
<rect x="429.95" y="996.42" width="3.3" height="9.78" fill="#26a69a"/>
<rect x="435.33" y="996.90" width="3.3" height="9.30" fill="#b2dfdb"/>
<rect x="440.70" y="995.81" width="3.3" height="10.39" fill="#26a69a"/>
<rect x="446.07" y="997.43" width="3.3" height="8.77" fill="#b2dfdb"/>
<rect x="451.44" y="997.85" width="3.3" height="8.35" fill="#b2dfdb"/>
<rect x="456.82" y="998.21" width="3.3" height="7.99" fill="#b2dfdb"/>
<rect x="462.19" y="997.83" width="3.3" height="8.37" fill="#26a69a"/>
<rect x="467.56" y="995.80" width="3.3" height="10.40" fill="#26a69a"/>
<rect x="472.94" y="995.58" width="3.3" height="10.62" fill="#26a69a"/>
<rect x="478.31" y="996.87" width="3.3" height="9.33" fill="#b2dfdb"/>
<rect x="483.68" y="995.87" width="3.3" height="10.33" fill="#26a69a"/>
<rect x="489.06" y="996.23" width="3.3" height="9.97" fill="#b2dfdb"/>
<rect x="494.43" y="998.37" width="3.3" height="7.83" fill="#b2dfdb"/>
<rect x="499.80" y="1002.59" width="3.3" height="3.61" fill="#b2dfdb"/>
<rect x="505.17" y="1002.64" width="3.3" height="3.56" fill="#b2dfdb"/>
<rect x="510.55" y="1005.13" width="3.3" height="1.07" fill="#b2dfdb"/>
<rect x="515.92" y="1005.77" width="3.3" height="0.60" fill="#b2dfdb"/>
<rect x="521.29" y="1005.80" width="3.3" height="0.60" fill="#b2dfdb"/>
<rect x="526.67" y="1006.2" width="3.3" height="1.11" fill="#ff5252"/>
<rect x="532.04" y="1006.2" width="3.3" height="6.38" fill="#ff5252"/>
<rect x="537.41" y="1006.2" width="3.3" height="8.92" fill="#ff5252"/>
<rect x="542.78" y="1006.2" width="3.3" height="12.68" fill="#ff5252"/>
<rect x="548.16" y="1006.2" width="3.3" height="11.84" fill="#ffcdd2"/>
<rect x="553.53" y="1006.2" width="3.3" height="9.22" fill="#ffcdd2"/>
<rect x="558.90" y="1006.2" width="3.3" height="6.46" fill="#ffcdd2"/>
<rect x="564.28" y="1006.2" width="3.3" height="0.90" fill="#ffcdd2"/>
<rect x="569.65" y="1006.2" width="3.3" height="4.01" fill="#ff5252"/>
<rect x="575.02" y="1006.2" width="3.3" height="2.08" fill="#ffcdd2"/>
<rect x="580.40" y="1005.48" width="3.3" height="0.72" fill="#26a69a"/>
<rect x="585.77" y="1004.97" width="3.3" height="1.23" fill="#26a69a"/>
<rect x="591.14" y="1003.75" width="3.3" height="2.45" fill="#26a69a"/>
<rect x="596.52" y="1001.30" width="3.3" height="4.90" fill="#26a69a"/>
<rect x="601.89" y="998.79" width="3.3" height="7.41" fill="#26a69a"/>
<rect x="607.26" y="994.72" width="3.3" height="11.48" fill="#26a69a"/>
<rect x="612.63" y="994.67" width="3.3" height="11.53" fill="#26a69a"/>
<rect x="618.01" y="997.64" width="3.3" height="8.56" fill="#b2dfdb"/>
<rect x="623.38" y="1005.40" width="3.3" height="0.80" fill="#b2dfdb"/>
<rect x="628.75" y="1005.16" width="3.3" height="1.04" fill="#26a69a"/>
<rect x="634.13" y="1002.61" width="3.3" height="3.59" fill="#26a69a"/>
<rect x="639.50" y="998.37" width="3.3" height="7.83" fill="#26a69a"/>
<rect x="644.87" y="993.15" width="3.3" height="13.05" fill="#26a69a"/>
<rect x="650.25" y="988.01" width="3.3" height="18.19" fill="#26a69a"/>
<rect x="655.62" y="986.91" width="3.3" height="19.29" fill="#26a69a"/>
<rect x="660.99" y="987.67" width="3.3" height="18.53" fill="#b2dfdb"/>
<rect x="666.36" y="979.71" width="3.3" height="26.49" fill="#26a69a"/>
<rect x="671.74" y="973.54" width="3.3" height="32.66" fill="#26a69a"/>
<rect x="677.11" y="970.12" width="3.3" height="36.08" fill="#26a69a"/>
<rect x="682.48" y="966.38" width="3.3" height="39.82" fill="#26a69a"/>
<rect x="687.86" y="965.63" width="3.3" height="40.57" fill="#26a69a"/>
<rect x="693.23" y="968.58" width="3.3" height="37.62" fill="#b2dfdb"/>
<rect x="698.60" y="971.87" width="3.3" height="34.33" fill="#b2dfdb"/>
<rect x="703.98" y="973.03" width="3.3" height="33.17" fill="#b2dfdb"/>
<rect x="709.35" y="976.79" width="3.3" height="29.41" fill="#b2dfdb"/>
<rect x="714.72" y="980.26" width="3.3" height="25.94" fill="#b2dfdb"/>
<rect x="720.09" y="989.22" width="3.3" height="16.98" fill="#b2dfdb"/>
<rect x="725.47" y="992.55" width="3.3" height="13.65" fill="#b2dfdb"/>
<rect x="730.84" y="987.46" width="3.3" height="18.74" fill="#26a69a"/>
<rect x="736.21" y="984.30" width="3.3" height="21.90" fill="#26a69a"/>
<rect x="741.59" y="996.01" width="3.3" height="10.19" fill="#b2dfdb"/>
<rect x="746.96" y="1006.2" width="3.3" height="0.68" fill="#ff5252"/>
<rect x="752.33" y="1006.2" width="3.3" height="8.67" fill="#ff5252"/>
<rect x="757.71" y="1006.2" width="3.3" height="27.68" fill="#ff5252"/>
<rect x="763.08" y="1006.2" width="3.3" height="35.13" fill="#ff5252"/>
<rect x="768.45" y="1006.2" width="3.3" height="52.86" fill="#ff5252"/>
<rect x="773.82" y="1006.2" width="3.3" height="52.45" fill="#ffcdd2"/>
<rect x="779.20" y="1006.2" width="3.3" height="57.58" fill="#ff5252"/>
<rect x="784.57" y="1006.2" width="3.3" height="67.58" fill="#ff5252"/>
<rect x="789.94" y="1006.2" width="3.3" height="69.72" fill="#ff5252"/>
<rect x="795.32" y="1006.2" width="3.3" height="56.99" fill="#ffcdd2"/>
<rect x="800.69" y="1006.2" width="3.3" height="52.51" fill="#ffcdd2"/>
<rect x="806.06" y="1006.2" width="3.3" height="39.55" fill="#ffcdd2"/>
<rect x="811.44" y="1006.2" width="3.3" height="28.84" fill="#ffcdd2"/>
<rect x="816.81" y="1006.2" width="3.3" height="14.56" fill="#ffcdd2"/>
<rect x="822.18" y="1006.2" width="3.3" height="10.21" fill="#ffcdd2"/>
<rect x="827.55" y="1002.53" width="3.3" height="3.67" fill="#26a69a"/>
<rect x="832.93" y="993.52" width="3.3" height="12.68" fill="#26a69a"/>
<circle cx="388.4" cy="994.1" r="20.4" fill="#ff9800" fill-opacity="0.2" stroke="#ff9800" stroke-width="1.7"/>
<circle cx="581.3" cy="965.3" r="21.5" fill="#ff9800" fill-opacity="0.2" stroke="#ff9800" stroke-width="1.7"/>
<circle cx="829.4" cy="974.8" r="21.2" fill="#ff9800" fill-opacity="0.2" stroke="#ff9800" stroke-width="1.7"/>
<polyline fill="none" stroke="#2962ff" stroke-width="1.8" stroke-linejoin="round" points="7.1,1007.1 12.5,1006.6 17.9,1005.5 23.3,1004.1 28.6,1002.4 34.0,1000.2 39.4,998.1 44.7,997.1 50.1,996.1 55.5,995.7 60.9,996.4 66.2,997.8 71.6,999.9 77.0,1002.1 82.4,1002.5 87.7,1003.4 93.1,1004.3 98.5,1003.5 103.8,1002.5 109.2,1001.8 114.6,1001.7 120.0,1003.0 125.3,1003.5 130.7,1004.0 136.1,1004.1 141.5,1004.5 146.8,1005.4 152.2,1005.8 157.6,1005.9 163.0,1005.3 168.3,1004.3 173.7,1003.1 179.1,1002.0 184.4,1000.4 189.8,999.3 195.2,998.2 200.6,997.6 205.9,996.7 211.3,995.5 216.7,994.6 222.1,993.3 227.4,992.7 232.8,991.3 238.2,989.6 243.5,988.8 248.9,987.7 254.3,985.9 259.7,985.6 265.0,984.5 270.4,984.2 275.8,984.0 281.2,982.7 286.5,981.9 291.9,982.7 297.3,981.6 302.7,981.7 308.0,982.3 313.4,981.2 318.8,982.7 324.1,985.2 329.5,988.4 334.9,991.3 340.3,992.1 345.6,992.3 351.0,993.1 356.4,995.4 361.8,997.0 367.1,996.6 372.5,997.5 377.9,996.6 383.2,996.3 388.6,994.4 394.0,991.5 399.4,988.3 404.7,986.3 410.1,983.4 415.5,980.6 420.9,977.5 426.2,974.5 431.6,971.4 437.0,969.6 442.3,965.9 447.7,965.3 453.1,963.6 458.5,962.0 463.8,959.5 469.2,954.9 474.6,952.0 480.0,951.0 485.3,947.4 490.7,945.3 496.1,945.5 501.5,948.8 506.8,947.9 512.2,950.2 517.6,950.7 522.9,950.6 528.3,952.4 533.7,959.3 539.1,964.0 544.4,971.0 549.8,973.1 555.2,972.8 560.6,971.6 565.9,966.3 571.3,970.4 576.7,969.0 582.0,966.0 587.4,965.2 592.8,963.4 598.2,959.7 603.5,955.3 608.9,948.4 614.3,945.5 619.7,946.3 625.0,953.8 630.4,953.3 635.8,949.9 641.1,943.7 646.5,935.2 651.9,925.5 657.3,919.6 662.6,915.7 668.0,901.1 673.4,886.8 678.8,874.4 684.1,860.7 689.5,849.8 694.9,843.3 700.3,838.0 705.6,830.9 711.0,827.3 716.4,824.3 721.7,829.0 727.1,828.9 732.5,819.2 737.9,810.5 743.2,819.7 748.6,830.7 754.0,840.9 759.4,866.8 764.7,883.0 770.1,914.0 775.5,926.7 780.8,946.2 786.2,973.1 791.6,992.7 797.0,994.2 802.3,1002.8 807.7,999.8 813.1,996.3 818.5,985.6 823.8,983.8 829.2,969.0 834.6,956.9"/>
<polyline fill="none" stroke="#ff6d00" stroke-width="1.8" stroke-linejoin="round" points="7.1,1006.4 12.5,1006.4 17.9,1006.3 23.3,1005.8 28.6,1005.1 34.0,1004.2 39.4,1002.9 44.7,1001.8 50.1,1000.6 55.5,999.6 60.9,999.0 66.2,998.7 71.6,999.0 77.0,999.6 82.4,1000.2 87.7,1000.8 93.1,1001.5 98.5,1001.9 103.8,1002.0 109.2,1002.0 114.6,1001.9 120.0,1002.1 125.3,1002.4 130.7,1002.7 136.1,1003.0 141.5,1003.3 146.8,1003.7 152.2,1004.1 157.6,1004.5 163.0,1004.6 168.3,1004.6 173.7,1004.3 179.1,1003.8 184.4,1003.1 189.8,1002.4 195.2,1001.6 200.6,1000.8 205.9,999.9 211.3,999.1 216.7,998.2 222.1,997.2 227.4,996.3 232.8,995.3 238.2,994.2 243.5,993.1 248.9,992.0 254.3,990.8 259.7,989.8 265.0,988.7 270.4,987.8 275.8,987.0 281.2,986.2 286.5,985.3 291.9,984.8 297.3,984.2 302.7,983.7 308.0,983.4 313.4,983.0 318.8,982.9 324.1,983.4 329.5,984.4 334.9,985.8 340.3,987.0 345.6,988.1 351.0,989.1 356.4,990.3 361.8,991.7 367.1,992.7 372.5,993.6 377.9,994.2 383.2,994.6 388.6,994.6 394.0,994.0 399.4,992.8 404.7,991.5 410.1,989.9 415.5,988.0 420.9,985.9 426.2,983.6 431.6,981.2 437.0,978.9 442.3,976.3 447.7,974.1 453.1,972.0 458.5,970.0 463.8,967.9 469.2,965.3 474.6,962.6 480.0,960.3 485.3,957.7 490.7,955.2 496.1,953.3 501.5,952.4 506.8,951.5 512.2,951.2 517.6,951.1 522.9,951.0 528.3,951.3 533.7,952.9 539.1,955.1 544.4,958.3 549.8,961.2 555.2,963.6 560.6,965.2 565.9,965.4 571.3,966.4 576.7,966.9 582.0,966.7 587.4,966.4 592.8,965.8 598.2,964.6 603.5,962.7 608.9,959.9 614.3,957.0 619.7,954.8 625.0,954.6 630.4,954.4 635.8,953.5 641.1,951.5 646.5,948.3 651.9,943.7 657.3,938.9 662.6,934.3 668.0,927.6 673.4,919.5 678.8,910.5 684.1,900.5 689.5,890.4 694.9,881.0 700.3,872.4 705.6,864.1 711.0,856.7 716.4,850.2 721.7,846.0 727.1,842.6 732.5,837.9 737.9,832.4 743.2,829.9 748.6,830.0 754.0,832.2 759.4,839.1 764.7,847.9 770.1,861.1 775.5,874.2 780.8,888.6 786.2,905.5 791.6,923.0 797.0,937.2 802.3,950.3 807.7,960.2 813.1,967.4 818.5,971.1 823.8,973.6 829.2,972.7 834.6,969.5"/>
</g>
<rect x="8" y="3.6" width="1073" height="1148" fill="none" stroke="#e0e3eb" stroke-width="1.3"/>
<line x1="7.5" y1="776.5" x2="1081" y2="776.5" stroke="#e0e3eb" stroke-width="1.4"/>
<text x="979" y="79.3" font-family="Liberation Sans, sans-serif" font-size="20.5" fill="#131722" textLength="85.5" lengthAdjust="spacingAndGlyphs">5500.00</text>
<text x="979" y="134.3" font-family="Liberation Sans, sans-serif" font-size="20.5" fill="#131722" textLength="85.5" lengthAdjust="spacingAndGlyphs">4300.00</text>
<text x="979" y="209.3" font-family="Liberation Sans, sans-serif" font-size="20.5" fill="#131722" textLength="85.5" lengthAdjust="spacingAndGlyphs">3100.00</text>
<text x="979" y="277.3" font-family="Liberation Sans, sans-serif" font-size="20.5" fill="#131722" textLength="85.5" lengthAdjust="spacingAndGlyphs">2300.00</text>
<text x="979" y="345.3" font-family="Liberation Sans, sans-serif" font-size="20.5" fill="#131722" textLength="85.5" lengthAdjust="spacingAndGlyphs">1700.00</text>
<text x="979" y="406.3" font-family="Liberation Sans, sans-serif" font-size="20.5" fill="#131722" textLength="85.5" lengthAdjust="spacingAndGlyphs">1300.00</text>
<text x="979" y="466.3" font-family="Liberation Sans, sans-serif" font-size="20.5" fill="#131722" textLength="85.5" lengthAdjust="spacingAndGlyphs">1000.00</text>
<text x="979" y="531.8" font-family="Liberation Sans, sans-serif" font-size="20.5" fill="#131722" textLength="72" lengthAdjust="spacingAndGlyphs">750.00</text>
<text x="979" y="586.3" font-family="Liberation Sans, sans-serif" font-size="20.5" fill="#131722" textLength="72" lengthAdjust="spacingAndGlyphs">590.00</text>
<text x="979" y="640.3" font-family="Liberation Sans, sans-serif" font-size="20.5" fill="#131722" textLength="72" lengthAdjust="spacingAndGlyphs">465.00</text>
<text x="979" y="695.3" font-family="Liberation Sans, sans-serif" font-size="20.5" fill="#131722" textLength="72" lengthAdjust="spacingAndGlyphs">365.00</text>
<text x="979" y="752.3" font-family="Liberation Sans, sans-serif" font-size="20.5" fill="#131722" textLength="72" lengthAdjust="spacingAndGlyphs">285.00</text>
<rect x="967" y="42" width="112" height="18" fill="#fbfbfc"/>
<text x="982" y="33" font-family="Liberation Sans, sans-serif" font-size="20.5" fill="#131722" textLength="43" lengthAdjust="spacingAndGlyphs">USD</text>
<clipPath id="ca"><rect x="964" y="777.2" width="117" height="374"/></clipPath>
<g clip-path="url(#ca)">
<text x="979" y="785.3" font-family="Liberation Sans, sans-serif" font-size="20.5" fill="#131722" textLength="72" lengthAdjust="spacingAndGlyphs">600.00</text>
<text x="979" y="861.9" font-family="Liberation Sans, sans-serif" font-size="20.5" fill="#131722" textLength="72" lengthAdjust="spacingAndGlyphs">400.00</text>
<text x="979" y="937.8" font-family="Liberation Sans, sans-serif" font-size="20.5" fill="#131722" textLength="72" lengthAdjust="spacingAndGlyphs">200.00</text>
<text x="979" y="1013.3" font-family="Liberation Sans, sans-serif" font-size="20.5" fill="#131722" textLength="45.5" lengthAdjust="spacingAndGlyphs">0.00</text>
<text x="979" y="1089.3" font-family="Liberation Sans, sans-serif" font-size="20.5" fill="#131722" textLength="85.5" lengthAdjust="spacingAndGlyphs">−200.00</text>
</g>
<rect x="904.6" y="160" width="58.4" height="29" rx="3.5" fill="#089981"/>
<rect x="965" y="160" width="109" height="29" rx="3.5" fill="#089981"/>
<rect x="955" y="160" width="8" height="29" fill="#089981"/>
<rect x="965" y="160" width="8" height="29" fill="#089981"/>
<text x="912.3" y="182.2" font-family="Liberation Sans, sans-serif" font-size="20.5" fill="#ffffff" textLength="42.5" lengthAdjust="spacingAndGlyphs">SOX</text>
<text x="979" y="182.2" font-family="Liberation Sans, sans-serif" font-size="20.5" fill="#ffffff" textLength="85.5" lengthAdjust="spacingAndGlyphs">3501.40</text>
<text x="6.699999999999999" y="1136.8" font-family="Liberation Sans, sans-serif" font-size="19.5" fill="#131722" textLength="55" lengthAdjust="spacingAndGlyphs" font-weight="bold">2011</text>
<text x="200.2" y="1136.8" font-family="Liberation Sans, sans-serif" font-size="19.5" fill="#131722" textLength="55" lengthAdjust="spacingAndGlyphs" font-weight="bold">2014</text>
<text x="393.5" y="1136.8" font-family="Liberation Sans, sans-serif" font-size="19.5" fill="#131722" textLength="55" lengthAdjust="spacingAndGlyphs" font-weight="bold">2017</text>
<text x="586.7" y="1136.8" font-family="Liberation Sans, sans-serif" font-size="19.5" fill="#131722" textLength="55" lengthAdjust="spacingAndGlyphs" font-weight="bold">2020</text>
<text x="780.4000000000001" y="1136.8" font-family="Liberation Sans, sans-serif" font-size="19.5" fill="#131722" textLength="55" lengthAdjust="spacingAndGlyphs" font-weight="bold">2023</text>
<text x="22.5" y="41.3" font-family="Liberation Sans, sans-serif" font-size="19.3" fill="#131722" textLength="271" lengthAdjust="spacing">フィラデルフィア半導体株指数,</text>
<text x="295.5" y="41.3" font-family="Liberation Sans, sans-serif" font-size="19.3" fill="#131722" textLength="35.5" lengthAdjust="spacing">1月,</text>
<text x="340" y="41.3" font-family="Liberation Sans, sans-serif" font-size="20.3" fill="#131722" textLength="85" lengthAdjust="spacingAndGlyphs">NASDAQ</text>
<text x="437" y="41.3" font-family="Liberation Sans, sans-serif" font-size="19.3" fill="#131722" textLength="38" lengthAdjust="spacing">始値</text>
<text x="475.5" y="41.3" font-family="Liberation Sans, sans-serif" font-size="20.3" fill="#089981" textLength="81.5" lengthAdjust="spacingAndGlyphs">3469.70</text>
<text x="569" y="41.3" font-family="Liberation Sans, sans-serif" font-size="19.3" fill="#131722" textLength="38" lengthAdjust="spacing">高値</text>
<text x="606.5" y="41.3" font-family="Liberation Sans, sans-serif" font-size="20.3" fill="#089981" textLength="82" lengthAdjust="spacingAndGlyphs">3546.42</text>
<text x="701" y="41.3" font-family="Liberation Sans, sans-serif" font-size="19.3" fill="#131722" textLength="38" lengthAdjust="spacing">安値</text>
<text x="739.3" y="41.3" font-family="Liberation Sans, sans-serif" font-size="20.3" fill="#089981" textLength="79.5" lengthAdjust="spacingAndGlyphs">3437.89</text>
<text x="830.5" y="41.3" font-family="Liberation Sans, sans-serif" font-size="19.3" fill="#131722" textLength="56" lengthAdjust="spacing">終値...</text>
<text x="22.5" y="70" font-family="Liberation Sans, sans-serif" font-size="19.3" fill="#131722" textLength="61.5" lengthAdjust="spacing">出来高:</text>
<text x="92" y="70" font-family="Liberation Sans, sans-serif" font-size="19.3" fill="#131722" textLength="626" lengthAdjust="spacing">このシンボルの出来高データはデータ提供元から提供されておりません。</text>
<text x="22" y="99.3" font-family="Liberation Sans, sans-serif" font-size="20.3" fill="#131722" textLength="222" lengthAdjust="spacingAndGlyphs">MACD Strategy (MACD</text>
<text x="244" y="99.3" font-family="Liberation Sans, sans-serif" font-size="19.3" fill="#131722" textLength="115" lengthAdjust="spacing">ストラテジー</text>
<text x="358.3" y="99.3" font-family="Liberation Sans, sans-serif" font-size="20.3" fill="#131722" textLength="111" lengthAdjust="spacingAndGlyphs">) (12, 26, 9)</text>
<text x="22.5" y="127.5" font-family="Liberation Sans, sans-serif" font-size="20.3" fill="#131722" textLength="383" lengthAdjust="spacingAndGlyphs">Colored EMA /3-SMA (50, 50, 100, 200)</text>
<text x="446.3" y="127.5" font-family="Liberation Sans, sans-serif" font-size="20.3" fill="#0a8f0a" textLength="80.5" lengthAdjust="spacingAndGlyphs">2623.33</text>
<text x="22" y="815.2" font-family="Liberation Sans, sans-serif" font-size="20.3" fill="#131722" textLength="338.5" lengthAdjust="spacingAndGlyphs">MACD (12, 26, close, 9, EMA, EMA)</text>
<text x="373.8" y="815.2" font-family="Liberation Sans, sans-serif" font-size="20.3" fill="#22ab94" textLength="55" lengthAdjust="spacingAndGlyphs">33.20</text>
<text x="441.5" y="815.2" font-family="Liberation Sans, sans-serif" font-size="20.3" fill="#2962ff" textLength="62.5" lengthAdjust="spacingAndGlyphs">127.90</text>
<text x="515.7" y="815.2" font-family="Liberation Sans, sans-serif" font-size="20.3" fill="#ff6d00" textLength="56" lengthAdjust="spacingAndGlyphs">94.70</text>
<g stroke="#131722" stroke-width="1.5" fill="none"><circle cx="427" cy="121.6" r="4.6"/><line x1="421" y1="128" x2="433" y2="115.2"/></g>
<g stroke="#131722" stroke-width="1.5" fill="none"><circle cx="546.1" cy="121.6" r="4.6"/><line x1="540.1" y1="128" x2="552.1" y2="115.2"/></g>
<g stroke="#131722" stroke-width="1.5" fill="none"><circle cx="572" cy="121.6" r="4.6"/><line x1="566" y1="128" x2="578" y2="115.2"/></g>
<g fill="#131722"><path d="M8,1173 H20.9 V1189 H14.6 V1179 H8 Z"/><circle cx="26.7" cy="1176.5" r="3.8"/><path d="M34.4,1173 H41 L34.2,1189 H27 Z"/></g>
<text x="47.3" y="1189.3" font-family="Liberation Sans, sans-serif" font-size="22" fill="#131722" textLength="126" lengthAdjust="spacingAndGlyphs">TradingView</text>
</svg>
</body></html>
